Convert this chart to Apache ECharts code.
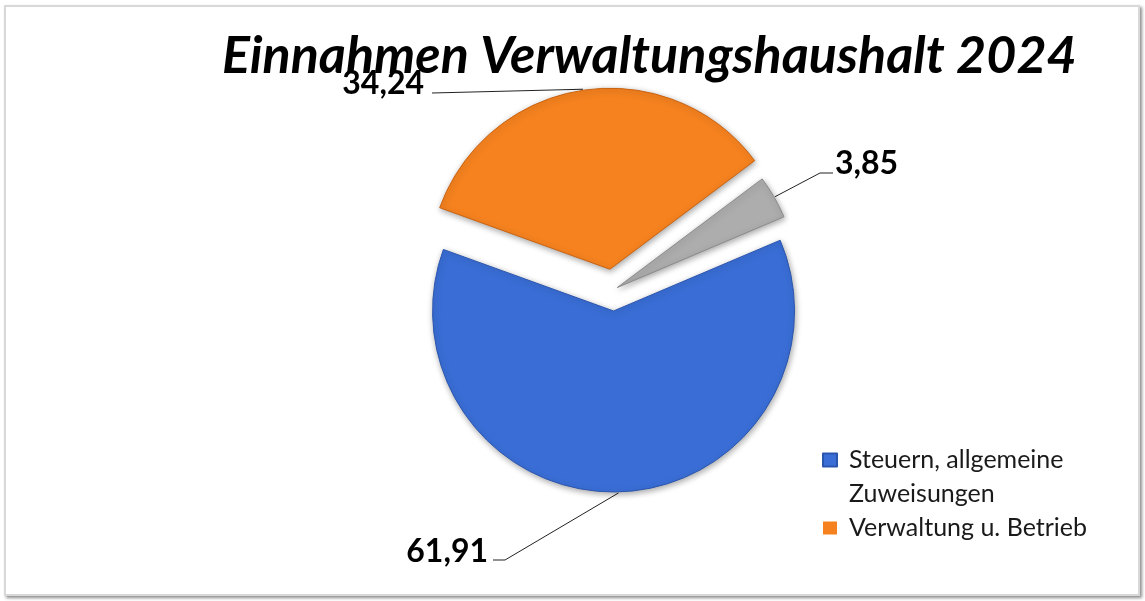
<!DOCTYPE html>
<html>
<head>
<meta charset="utf-8">
<title>Einnahmen Verwaltungshaushalt 2024</title>
<script src="https://cdn.jsdelivr.net/npm/echarts@6/dist/echarts.min.js"></script>
<style>
  html, body { margin: 0; padding: 0; background: #fff; }
  #frame {
    position: absolute; left: 4px; top: 5px; width: 1132px; height: 587px;
    border: 2px solid #d8d8d8;
    box-shadow: 2px 2px 3px rgba(0, 0, 0, 0.45);
  }
  #main { position: absolute; left: 0; top: 0; width: 1145px; height: 601px; }
</style>
</head>
<body>
<div id="frame"></div>
<div id="main"></div>
<script>
// data
var categories = ['Steuern, allgemeine Zuweisungen', 'Verwaltung u. Betrieb', 'Sonstige Einnahmen'];
var values = [61.91, 34.24, 3.85];
var legendNames = ['Steuern, allgemeine Zuweisungen', 'Verwaltung u. Betrieb'];

// look
var sliceColors = ['#3a6ed6', '#f5821f', '#adadad'];
var edgeColors = ['#2a55ad', '#c9620f', '#8a8a8a'];
var fontName = 'Lato, "Open Sans", sans-serif';

// pie geometry (Excel style exploded slices)
var startAngle = 23;
var pieCenter = [613, 290];
var pieRadius = 181;
var explode = [21, 21, 5];

var total = values.reduce(function (a, b) { return a + b; }, 0);
var midAngles = [];
var acc = 0;
values.forEach(function (v) {
  midAngles.push(startAngle - (acc + v / 2) / total * 360);
  acc += v;
});
var centers = midAngles.map(function (a, i) {
  var rad = a * Math.PI / 180;
  return [pieCenter[0] + explode[i] * Math.cos(rad), pieCenter[1] - explode[i] * Math.sin(rad)];
});
function arcPoint(i, extra) {
  var rad = midAngles[i] * Math.PI / 180;
  var r = pieRadius + extra;
  return [centers[i][0] + r * Math.cos(rad), centers[i][1] - r * Math.sin(rad)];
}

// where the data labels sit (moved by hand in the original)
var labelSpots = [
  { x: 488, y: 552, align: 'right', line: [[505, 560], [493, 560]] },
  { x: 424, y: 84, align: 'right', line: [[432, 93], [432, 93]] },
  { x: 835, y: 164, align: 'left', line: [[820, 173], [833, 173]] }
];

var series = values.map(function (v, i) {
  return {
    type: 'pie',
    center: centers[i],
    radius: pieRadius,
    startAngle: startAngle,
    clockwise: true,
    avoidLabelOverlap: false,
    emphasis: { disabled: true },
    data: values.map(function (val, j) {
      var on = j === i;
      return {
        name: categories[j],
        value: val,
        itemStyle: on ? {
          color: sliceColors[j],
          borderColor: edgeColors[j],
          borderWidth: 1,
          shadowBlur: 6,
          shadowOffsetX: 1,
          shadowOffsetY: 2,
          shadowColor: 'rgba(0,0,0,0.35)'
        } : { color: 'transparent', borderWidth: 0 },
        label: { show: on },
        labelLine: { show: on }
      };
    }),
    label: {
      position: 'outside',
      formatter: function (p) { return p.value.toFixed(2).replace('.', ','); },
      fontFamily: fontName,
      fontSize: 32,
      fontWeight: 'bold',
      color: '#000'
    },
    labelLine: { lineStyle: { color: '#222', width: 1 } },
    labelLayout: function (p) {
      var s = labelSpots[p.dataIndex];
      return {
        x: s.x,
        y: s.y,
        align: s.align,
        verticalAlign: 'middle',
        labelLinePoints: [arcPoint(p.dataIndex, 1)].concat(s.line)
      };
    }
  };
});

var chart = echarts.init(document.getElementById('main'));
chart.setOption({
  backgroundColor: 'transparent',
  animation: false,
  title: {
    text: 'Einnahmen Verwaltungshaushalt 2024',
    left: 217,
    top: 25,
    textStyle: {
      fontFamily: fontName,
      fontSize: 52,
      fontWeight: 'bold',
      fontStyle: 'italic',
      color: '#000'
    }
  },
  legend: {
    orient: 'vertical',
    left: 822,
    top: 409,
    padding: 0,
    itemGap: 0,
    itemWidth: 14,
    itemHeight: 13,
    icon: 'rect',
    selectedMode: false,
    data: legendNames.map(function (n) {
      return { name: n, itemStyle: { color: sliceColors[categories.indexOf(n)] } };
    }),
    formatter: function (name) {
      // first line beside the marker, rest wrapped below
      return name === legendNames[0] ? ' \nSteuern, allgemeine\nZuweisungen' : name;
    },
    textStyle: {
      fontFamily: fontName,
      fontSize: 25,
      lineHeight: 34,
      color: '#1a1a1a',
      padding: [0, 0, 0, 7]
    }
  },
  series: series
});
</script>
</body>
</html>
